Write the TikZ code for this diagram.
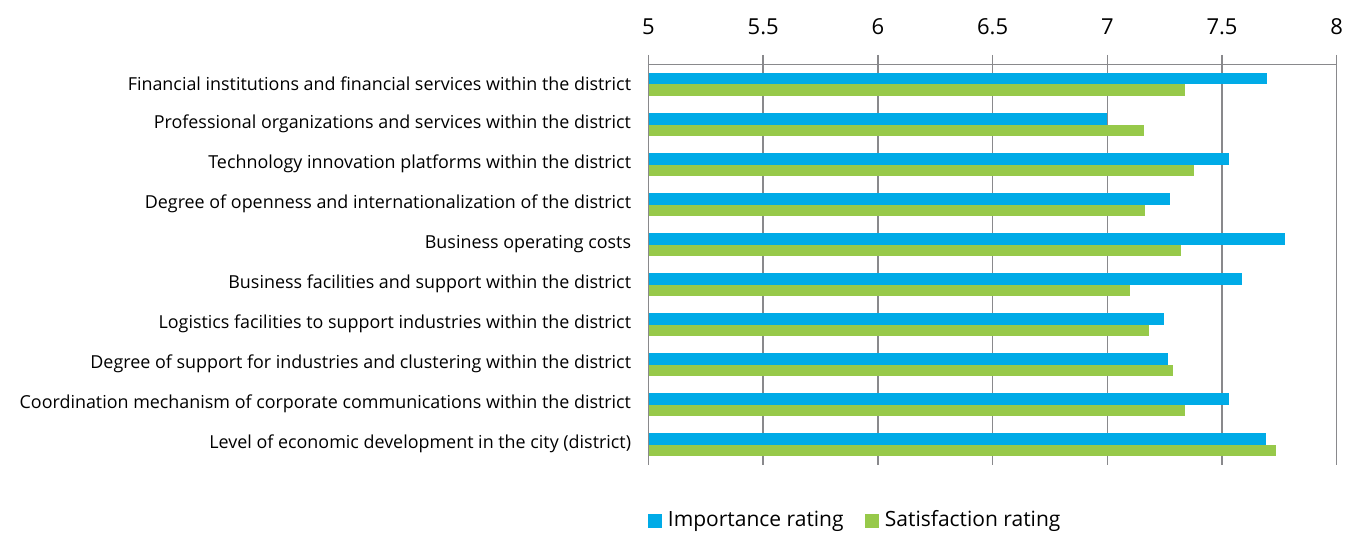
\documentclass[tikz,border=0pt]{standalone}
\usepackage{fontspec}
\setmainfont{Open Sans}
\usepackage{tikz}
\usetikzlibrary{positioning}

\definecolor{impblue}{RGB}{0,171,231}
\definecolor{satgreen}{RGB}{151,201,74}
\definecolor{gridgray}{RGB}{137,137,140}

\tikzset{
  cat/.style={anchor=east,inner sep=0.75pt,font=\fontsize{17.9}{20}\selectfont},
  tick/.style={anchor=center,inner sep=0.75pt,font=\fontsize{22}{24}\selectfont},
  legtext/.style={anchor=west,inner sep=0.75pt,font=\fontsize{21}{24}\selectfont},
  impbar/.style={fill=impblue,draw=none},
  satbar/.style={fill=satgreen,draw=none},
  grid line/.style={draw=gridgray,line width=1.5pt}
}

\begin{document}
\begin{tikzpicture}[x=1pt,y=1pt,yscale=-1,xscale=1]
\useasboundingbox (0,0) rectangle (1353,535);

%Grid lines
\draw [grid line] (648.5,55) -- (648.5,465) ;
\draw [grid line] (763.2,55) -- (763.2,465) ;
\draw [grid line] (877.9,55) -- (877.9,465) ;
\draw [grid line] (992.6,55) -- (992.6,465) ;
\draw [grid line] (1107.3,55) -- (1107.3,465) ;
\draw [grid line] (1222,55) -- (1222,465) ;
\draw [grid line] (1336.7,55) -- (1336.7,465) ;
%Axis line
\draw [grid line] (648.5,64.5) -- (1336.7,64.5) ;

% Tick labels
\node [tick] (t50) at (648.5,27) {5};
\node [tick] (t55) at (763.2,27) {5.5};
\node [tick] (t60) at (877.9,27) {6};
\node [tick] (t65) at (992.6,27) {6.5};
\node [tick] (t70) at (1107.3,27) {7};
\node [tick] (t75) at (1222,27) {7.5};
\node [tick] (t80) at (1336.7,27) {8};

%Bars: Financial institutions
\fill [impbar] (648.5,73) rectangle (1267.3,84.5) ;
\fill [satbar] (648.5,84.5) rectangle (1185,96) ;
%Bars: Professional organizations
\fill [impbar] (648.5,113) rectangle (1107.3,124.5) ;
\fill [satbar] (648.5,124.5) rectangle (1144,136) ;
%Bars: Technology innovation
\fill [impbar] (648.5,153) rectangle (1228.7,164.5) ;
\fill [satbar] (648.5,164.5) rectangle (1194.3,176) ;
%Bars: Degree of openness
\fill [impbar] (648.5,193) rectangle (1170.3,204.5) ;
\fill [satbar] (648.5,204.5) rectangle (1144.7,216) ;
%Bars: Business operating costs
\fill [impbar] (648.5,233) rectangle (1285,244.5) ;
\fill [satbar] (648.5,244.5) rectangle (1180.7,256) ;
%Bars: Business facilities
\fill [impbar] (648.5,273) rectangle (1241.7,284.5) ;
\fill [satbar] (648.5,284.5) rectangle (1130,296) ;
%Bars: Logistics facilities
\fill [impbar] (648.5,313) rectangle (1163.7,324.5) ;
\fill [satbar] (648.5,324.5) rectangle (1149.3,336) ;
%Bars: Degree of support
\fill [impbar] (648.5,353) rectangle (1168,364.5) ;
\fill [satbar] (648.5,364.5) rectangle (1172.7,376) ;
%Bars: Coordination mechanism
\fill [impbar] (648.5,393) rectangle (1228.7,404.5) ;
\fill [satbar] (648.5,404.5) rectangle (1185,416) ;
%Bars: Level of economic development
\fill [impbar] (648.5,433) rectangle (1266,444.5) ;
\fill [satbar] (648.5,444.5) rectangle (1275.7,456) ;

% Category labels
\node [cat] (c1) at (632,84) {Financial institutions and financial services within the district};
\node [cat] (c2) at (632,124) {Professional organizations and services within the district};
\node [cat] (c3) at (632,164) {Technology innovation platforms within the district};
\node [cat] (c4) at (632,204) {Degree of openness and internationalization of the district};
\node [cat] (c5) at (632,244) {Business operating costs};
\node [cat] (c6) at (632,284) {Business facilities and support within the district};
\node [cat] (c7) at (632,324) {Logistics facilities to support industries within the district};
\node [cat] (c8) at (632,364) {Degree of support for industries and clustering within the district};
\node [cat] (c9) at (632,404) {Coordination mechanism of corporate communications within the district};
\node [cat] (c10) at (632,444) {Level of economic development in the city (district)};

% Legend
\fill [impbar] (648,514) rectangle (662,528) ;
\node [legtext] (limp) at (667,521) {Importance rating};
\fill [satbar] (865,514) rectangle (879,528) ;
\node [legtext] (lsat) at (884,521) {Satisfaction rating};

\end{tikzpicture}
\end{document}
